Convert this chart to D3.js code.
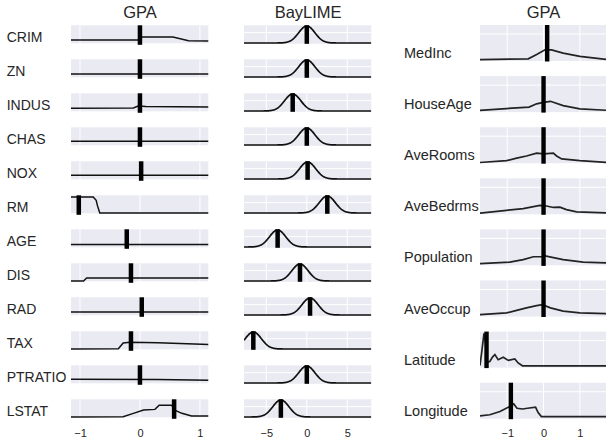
<!DOCTYPE html>
<html><head><meta charset="utf-8">
<script src="https://cdn.jsdelivr.net/npm/d3@7"></script>
<style>
html,body{margin:0;padding:0;background:#fff;}
svg{display:block;font-family:"Liberation Sans",Arial,sans-serif;}
</style></head>
<body>
<svg id="chart" width="606" height="444"></svg>
<script>
// ---------- DATA ----------
const leftFeatures = ["CRIM","ZN","INDUS","CHAS","NOX","RM","AGE","DIS","RAD","TAX","PTRATIO","LSTAT"];
const gpaLeftMarks = [0, 0, 0, 0, 0.02, -1.02, -0.22, -0.15, 0.03, -0.15, 0, 0.57];
const gpaLeftCurves = [
  [[-1.15,0.18],[-0.005,0.18],[0.01,0.35],[0.55,0.35],[0.81,0.14],[1.15,0.13]],
  [[-1.15,0.18],[1.15,0.18]],
  [[-1.15,0.17],[-0.11,0.18],[-0.03,0.29],[0.1,0.27],[1.15,0.24]],
  [[-1.15,0.22],[1.15,0.22]],
  [[-1.15,0.22],[1.15,0.22]],
  [[-1.15,0.91],[-0.78,0.91],[-0.73,0.72],[-0.71,0.44],[-0.67,0.02],[1.15,0.02]],
  [[-1.15,0.15],[1.15,0.15]],
  [[-1.15,0.02],[-0.94,0.02],[-0.89,0.18],[1.15,0.18]],
  [[-1.15,0.18],[1.15,0.18]],
  [[-1.15,0.02],[-0.36,0.03],[-0.28,0.35],[-0.17,0.39],[0.3,0.36],[1.15,0.26]],
  [[-1.15,0.22],[0.3,0.21],[1.15,0.17]],
  [[-1.15,0.02],[-0.28,0.03],[-0.11,0.22],[0.06,0.4],[0.25,0.44],[0.32,0.67],[0.53,0.67],[0.58,0.4],[0.7,0.22],[0.86,0.07],[1.15,0.07]]
];
const bayMeans = [0, 0, -1.74, 0, 0.1, 2.53, -3.6, -0.84, 0.4, -6.6, 0, -3.2];
const baySds   = [1, 1, 1, 1, 1, 1, 1, 1, 1, 1, 1, 1];

const rightFeatures = ["MedInc","HouseAge","AveRooms","AveBedrms","Population","AveOccup","Latitude","Longitude"];
const gpaRightMarks = [0.1, 0, 0, 0, 0, 0, -1.57, -0.9];
const gpaRightCurves = [
  [[-1.75,0.04],[-0.42,0.06],[-0.19,0.18],[0.04,0.31],[0.22,0.31],[0.54,0.22],[1.0,0.13],[1.75,0.04]],
  [[-1.75,0.05],[-0.4,0.14],[-0.19,0.23],[0,0.27],[0.19,0.3],[0.54,0.18],[1.0,0.09],[1.75,0.05]],
  [[-1.75,0.02],[-1.02,0.07],[-0.74,0.14],[-0.47,0.2],[-0.19,0.28],[0,0.26],[0.27,0.28],[0.36,0.2],[0.5,0.12],[1.0,0.07],[1.75,0.02]],
  [[-1.75,0.03],[-1.48,0.06],[-1.02,0.11],[-0.56,0.16],[-0.1,0.25],[0.08,0.23],[0.27,0.19],[0.45,0.2],[0.63,0.13],[0.91,0.07],[1.75,0.04]],
  [[-1.75,0.05],[-0.93,0.09],[-0.56,0.16],[-0.28,0.24],[-0.05,0.24],[0.01,0.27],[0.54,0.16],[1.09,0.09],[1.75,0.07]],
  [[-1.75,0.05],[-1.02,0.1],[-0.74,0.17],[-0.47,0.24],[-0.19,0.3],[-0.03,0.33],[0.19,0.24],[0.54,0.15],[1.0,0.1],[1.75,0.08]],
  [[-1.75,0.06],[-1.7,0.45],[-1.64,0.95],[-1.6,0.7],[-1.55,0.15],[-1.48,0.17],[-1.4,0.3],[-1.34,0.36],[-1.25,0.22],[-1.11,0.29],[-0.97,0.2],[-0.79,0.24],[-0.7,0.13],[-0.58,0.05],[1.75,0.05]],
  [[-1.75,0.08],[-1.48,0.11],[-1.2,0.2],[-0.93,0.34],[-0.82,0.41],[-0.73,0.29],[-0.58,0.27],[-0.44,0.29],[-0.22,0.32],[-0.15,0.17],[-0.06,0.06],[1.75,0.06]]
];

const leftTicks = [-1, 0, 1];
const bayTicks = [-5, 0, 5];
const rightTicks = [-1, 0, 1];
const titles = ["GPA", "BayLIME", "GPA"];

// ---------- LAYOUT ----------
const svg = d3.select("#chart");
const BG = "#EAEAF2", TXT = "#262626";

const xL = d3.scaleLinear().domain([-1.15, 1.14]).range([71, 208.3]);
const xB = d3.scaleLinear().domain([-7.75, 7.96]).range([244, 371.3]);
const xR = d3.scaleLinear().domain([-1.75, 1.72]).range([480, 606]);

const rowL = d3.scaleLinear().domain([0, 11]).range([25.3, 399.3]);
const rowR = d3.scaleLinear().domain([0, 7]).range([25, 382.7]);
const hL = 18, hR = 36;

const defs = svg.append("defs");
let clipId = 0;

function panel(x, top, h, ticks, hGrid) {
  const g = svg.append("g");
  const [x0, x1] = x.range();
  g.append("rect").attr("x", x0).attr("y", top).attr("width", x1 - x0).attr("height", h).attr("fill", BG);
  g.selectAll("line.vg").data(ticks).join("line")
    .attr("x1", d => x(d)).attr("x2", d => x(d)).attr("y1", top).attr("y2", top + h)
    .attr("stroke", "#fff").attr("stroke-width", 1);
  if (hGrid != null) {
    g.append("line").attr("x1", x0).attr("x2", x1).attr("y1", hGrid).attr("y2", hGrid)
      .attr("stroke", "#fff").attr("stroke-width", 1);
  }
  const id = "clip" + (clipId++);
  defs.append("clipPath").attr("id", id).append("rect")
    .attr("x", x0).attr("y", top - 1).attr("width", x1 - x0).attr("height", h + 2);
  return g.append("g").attr("clip-path", `url(#${id})`);
}

// labels first (panels drawn over them)
svg.append("g").selectAll("text").data(leftFeatures).join("text")
  .attr("x", 6.7).attr("y", (d, i) => rowL(i) + 16.8)
  .attr("font-size", 14).attr("fill", TXT).text(d => d);
svg.append("g").selectAll("text").data(rightFeatures).join("text")
  .attr("x", 404).attr("y", (d, i) => rowR(i) + 33)
  .attr("font-size", 14.5).attr("fill", TXT).text(d => d);

// Left GPA column
leftFeatures.forEach((f, i) => {
  const T = rowL(i);
  const y = d3.scaleLinear().domain([0, 1]).range([T + hL, T]);
  const g = panel(xL, T, hL, leftTicks, null);
  g.append("path").datum(gpaLeftCurves[i])
    .attr("d", d3.line().x(d => xL(d[0])).y(d => y(d[1])))
    .attr("fill", "none").attr("stroke", "#111").attr("stroke-width", 1.5);
  svg.append("rect").attr("x", xL(gpaLeftMarks[i]) - 2.25).attr("y", T)
    .attr("width", 4.5).attr("height", hL + 1.5).attr("fill", "#000");
});

// BayLIME column
leftFeatures.forEach((f, i) => {
  const T = rowL(i);
  const hB = 18.5;
  const y = d3.scaleLinear().domain([0, 1]).range([T + 17.7, T + 0.7]);
  const g = panel(xB, T, hB, bayTicks, y(0.61));
  const m = bayMeans[i], s = baySds[i];
  const xs = d3.range(xB.domain()[0], xB.domain()[1] + 0.01, 0.05);
  g.append("path").datum(xs)
    .attr("d", d3.line().x(d => xB(d)).y(d => y(Math.exp(-0.5 * ((d - m) / s) ** 2))))
    .attr("fill", "none").attr("stroke", "#111").attr("stroke-width", 1.7);
  svg.append("rect").attr("x", xB(m) - 2.25).attr("y", T)
    .attr("width", 4.5).attr("height", hB).attr("fill", "#000");
});

// Right GPA column
rightFeatures.forEach((f, i) => {
  const T = rowR(i);
  const y = d3.scaleLinear().domain([0, 1]).range([T + hR, T]);
  const g = panel(xR, T, hR, rightTicks, y(0.75));
  g.append("path").datum(gpaRightCurves[i])
    .attr("d", d3.line().x(d => xR(d[0])).y(d => y(d[1])))
    .attr("fill", "none").attr("stroke", "#222").attr("stroke-width", 1.7);
  svg.append("rect").attr("x", xR(gpaRightMarks[i]) - 2.2).attr("y", T)
    .attr("width", 4.4).attr("height", hR + 0.5).attr("fill", "#000");
});

// Axes
function axis(x, ticks) {
  const g = svg.append("g").attr("transform", "translate(0,420)")
    .call(d3.axisBottom(x).tickValues(ticks).tickSize(0).tickPadding(9.2).tickFormat(d3.format("d")));
  g.select(".domain").remove();
  g.selectAll("text").attr("font-size", 11).attr("fill", TXT)
    .attr("font-family", '"Liberation Sans",Arial,sans-serif');
}
axis(xL, leftTicks);
axis(xB, bayTicks);
axis(xR, rightTicks);

// Titles
const titleX = [xL(0), (xB.range()[0] + xB.range()[1]) / 2 + 0.5, xR(0)];
svg.append("g").selectAll("text").data(titles).join("text")
  .attr("x", (d, i) => titleX[i]).attr("y", 18.4)
  .attr("text-anchor", "middle").attr("font-size", 16.5).attr("fill", TXT).text(d => d);
</script>
</body></html>
